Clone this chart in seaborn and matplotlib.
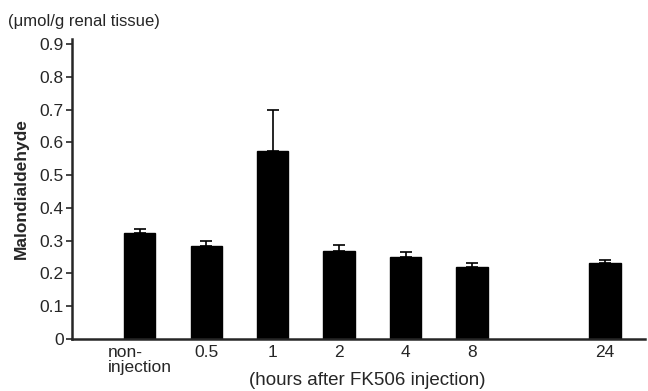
import matplotlib
matplotlib.use("Agg")
import matplotlib.pyplot as plt
import seaborn as sns

# data
labels = ['non-\ninjection', '0.5', '1', '2', '4', '8', '24']
positions = [0, 1, 2, 3, 4, 5, 7]
mda = [0.323, 0.285, 0.573, 0.269, 0.249, 0.221, 0.231]
sem = [0.012, 0.015, 0.125, 0.018, 0.016, 0.010, 0.009]

sns.set_style("ticks")
plt.rcParams['font.family'] = ['Liberation Sans', 'DejaVu Sans']

fig = plt.figure(figsize=(6.48, 3.91), dpi=100)
ax = fig.add_axes([0.111, 0.133, 0.884, 0.767])

sns.barplot(x=positions, y=mda, native_scale=True, color='black',
            width=0.47, edgecolor='black', ax=ax)
ax.errorbar(positions, mda, yerr=[[0] * len(sem), sem], fmt='none',
            ecolor='black', elinewidth=1.2, capsize=4, capthick=1.2)

ax.set_xlim(-1.02, 7.6)
ax.set_ylim(0, 0.915)
ax.set_yticks([i / 10 for i in range(10)])
ax.set_yticklabels(['0'] + ['0.%d' % i for i in range(1, 10)], fontsize=12.5)
ax.set_xticks(positions)
ax.set_xticklabels(labels, fontsize=12.5, linespacing=1.0)
ax.get_xticklabels()[0].set_multialignment('left')
ax.tick_params(axis='x', length=0, pad=4)
ax.tick_params(axis='y', length=4, width=1.2, pad=2)
sns.despine(ax=ax)
for s in ['left', 'bottom']:
    ax.spines[s].set_linewidth(1.8)

ax.set_xlabel('(hours after FK506 injection)', fontsize=13.5, va='center')
ax.xaxis.set_label_coords(0.515, -0.137)
ax.set_ylabel('Malondialdehyde', fontsize=12.5, fontweight='bold')
ax.yaxis.set_label_coords(-0.075, 0.5)
fig.text(0.012, 0.945, '(μmol/g renal tissue)', fontsize=12, va='center')

fig.savefig('out.png', dpi=100)
